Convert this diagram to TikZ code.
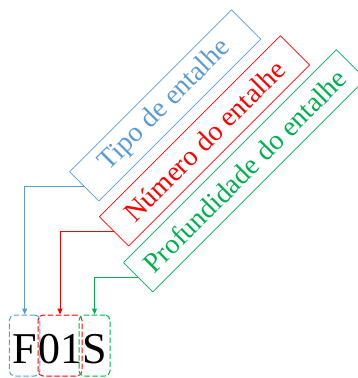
\documentclass[tikz,border=0pt]{standalone}
\usepackage{fontspec}
\setmainfont{Liberation Serif}
\usetikzlibrary{arrows.meta}
\definecolor{azul}{HTML}{5B9BD5}
\definecolor{vermelho}{HTML}{FF0000}
\definecolor{verde}{HTML}{00B050}

\begin{document}
\begin{tikzpicture}[line cap=round,line join=round,x=1pt,y=1pt,
    rotulo/.style={draw=#1,text=#1,line width=0.7pt,rotate=45,inner sep=0pt,
      minimum height=41.4pt,font=\fontsize{28}{32}\selectfont},
    letra/.style={draw=#1,line width=1pt,dash pattern=on 5pt off 3pt,
      rounded corners=5pt,inner sep=0pt,minimum height=61pt,
      text height=35pt,text depth=0pt,font=\fontsize{44}{50}\selectfont},
    liga/.style={draw=#1,line width=1pt,-{Triangle[length=6pt,width=5pt]}}]
      \useasboundingbox (0,0) rectangle (357,-378);

      % caixas rodadas
      \node[rotulo=azul,minimum width=229pt] (tipo) at (165.2,-105.5) {Tipo de entalhe};
      \node[rotulo=vermelho,minimum width=256pt] (numero) at (204.5,-140.8) {Número do entalhe};
      \node[rotulo=verde,minimum width=301pt] (prof) at (244.6,-170.8) {Profundidade do entalhe};

      % codigo
      \node[letra=azul,minimum width=30.5pt] (F) at (24.7,-345.5) {F};
      \node[letra=vermelho,minimum width=40pt] (zu) at (60,-345.5) {01};
      \node[letra=verde,minimum width=31pt] (S) at (94.5,-345.5) {S};

      \draw[liga=azul] (tipo.west) -| (F.north);
      \draw[liga=vermelho] (numero.west) -| (zu.north);
      \draw[liga=verde] (prof.west) -| (S.north);
\end{tikzpicture}
\end{document}
